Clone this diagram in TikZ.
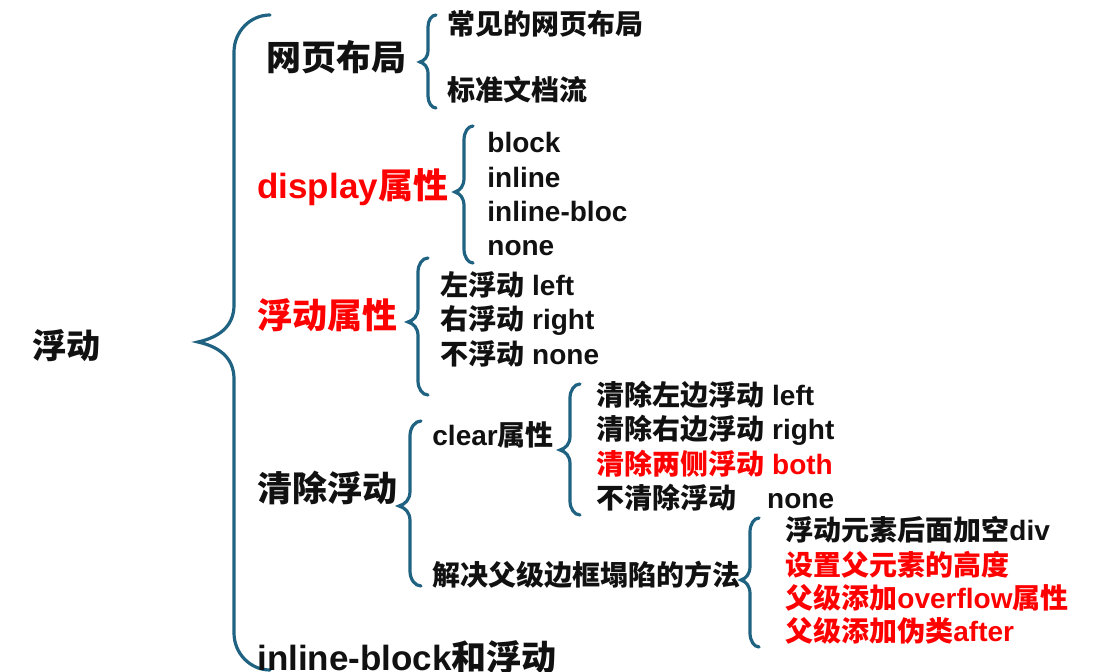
\documentclass[tikz,border=0pt]{standalone}
\usepackage{fontspec}
\setmainfont{Liberation Sans}
\newfontfamily\zhfont{Noto Sans CJK SC}
\usepackage{tikz}
\definecolor{braceblue}{RGB}{31, 98, 129}
\definecolor{hired}{RGB}{255, 0, 0}
\definecolor{ink}{RGB}{17, 17, 17}
\newcommand\cn[1]{{\zhfont #1}}
% brace: spine x, top y, tip y, bottom y, width, radius
\newcommand\cbrace[6]{%
	\draw[brace] ({#1+#5},#2) .. controls ({#1+0.45*#5},#2) and (#1,{#2+0.45*#6}) .. (#1,{#2+#6})
	-- (#1,{#3-#6}) .. controls (#1,{#3-0.4*#6}) and ({#1-0.45*#5},{#3-0.12*#6}) .. ({#1-#5},#3)
	.. controls ({#1-0.45*#5},{#3+0.12*#6}) and (#1,{#3+0.4*#6}) .. (#1,{#3+#6})
	-- (#1,{#4-#6}) .. controls (#1,{#4-0.45*#6}) and ({#1+0.45*#5},#4) .. ({#1+#5},#4);}

\begin{document}
\begin{tikzpicture}[x=0.5pt, y=-0.5pt,
		big/.style={anchor=base west, inner sep=0pt, text=ink,
			font=\fontsize{17.5}{20}\selectfont\bfseries},
		item/.style={anchor=base west, inner sep=0pt, text=ink,
			font=\fontsize{14}{16}\selectfont\bfseries},
		hot/.style={text=hired},
		brace/.style={draw=braceblue, line width=1.6pt, line cap=round}
		]
		\useasboundingbox (0,0) rectangle (1096,672);
		
		% Racine
		\node[big, font=\fontsize{17}{20}\selectfont\bfseries] (root) at (32,359) {\cn{浮动}};
		\cbrace{234}{15}{342}{670}{36}{37}
		
		% Niveau 1
		\node[big] (layout)  at (266,71)  {\cn{网页布局}};
		\node[big, hot] (display) at (257,199) {display\cn{属性}};
		\node[big, hot] (floatp)  at (257,329) {\cn{浮动属性}};
		\node[big] (clearf)  at (257,502) {\cn{清除浮动}};
		\node[big] (ibf)     at (257,670) {inline-block\cn{和浮动}};
		
		% Mise en page
		\cbrace{428}{15}{62}{108}{8}{12}
		\node[item] (common) at (447,35)  {\cn{常见的网页布局}};
		\node[item] (stdflow) at (447,101) {\cn{标准文档流}};
		
		% Valeurs display
		\cbrace{464}{126}{192}{263}{9}{14}
		\foreach \t/\y [count=\i] in {block/153, inline/188, inline-bloc/222, none/256}
		\node[item] (disp\i) at (487,\y) {\t};
		
		% Valeurs float
		\cbrace{418}{258}{322}{395}{10}{14}
		\node[item] (fleft)  at (440,296) {\cn{左浮动} left};
		\node[item] (fright) at (440,330) {\cn{右浮动} right};
		\node[item] (fnone)  at (440,365) {\cn{不浮动} none};
		
		% Clear
		\cbrace{410}{421}{506}{586}{11}{15}
		\node[item] (clearp) at (432,446) {clear\cn{属性}};
		\node[item] (fix)    at (432,585) {\cn{解决父级边框塌陷的方法}};
		
		\cbrace{570}{384}{450}{515}{10}{14}
		\node[item] (cleft)  at (596,406) {\cn{清除左边浮动} left};
		\node[item] (cright) at (596,440) {\cn{清除右边浮动} right};
		\node[item, hot] (cboth) at (596,475) {\cn{清除两侧浮动} both};
		\node[item] (cnone)  at (596,509) {\cn{不清除浮动}\hspace{1.1em}none};
		
		\cbrace{750}{518}{580}{647}{9}{14}
		\node[item] (emptydiv) at (785,541) {\cn{浮动元素后面加空}div};
		\node[item, hot] (height) at (785,575) {\cn{设置父元素的高度}};
		\node[item, hot] (overflow) at (785,608) {\cn{父级添加}overflow\cn{属性}};
		\node[item, hot] (after) at (785,641) {\cn{父级添加伪类}after};
	\end{tikzpicture}
\end{document}
